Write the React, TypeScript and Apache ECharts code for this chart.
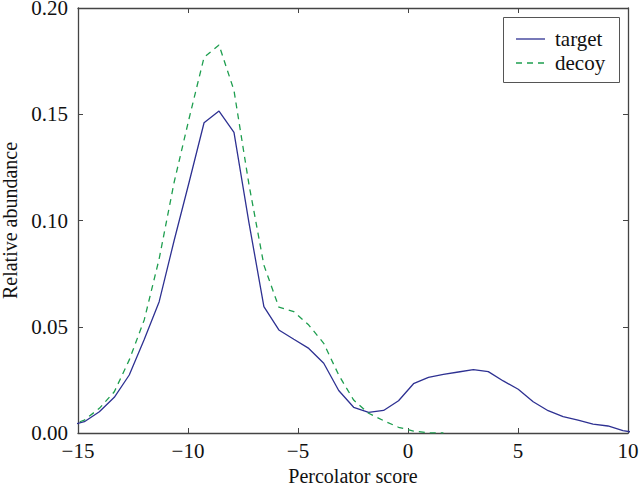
import React, { useEffect, useRef } from "react";
import * as echarts from "echarts";

const scores = [-15.39, -14.71, -14.03, -13.35, -12.67, -11.99, -11.31, -10.63, -9.95, -9.27, -8.59, -7.91, -7.23, -6.55, -5.87, -5.19, -4.51, -3.83, -3.15, -2.47, -1.79, -1.11, -0.43, 0.25, 0.93, 1.61, 2.29, 2.97, 3.65, 4.33, 5.01, 5.69, 6.37, 7.05, 7.73, 8.41, 9.09, 9.77, 10.45];
const target = [0.0035, 0.0053, 0.0100, 0.0168, 0.0273, 0.0440, 0.0618, 0.0906, 0.1180, 0.1460, 0.1515, 0.1415, 0.0990, 0.0595, 0.0485, 0.0441, 0.0398, 0.0328, 0.0200, 0.0121, 0.0097, 0.0106, 0.0152, 0.0232, 0.0262, 0.0276, 0.0287, 0.0298, 0.0289, 0.0245, 0.0206, 0.0147, 0.0105, 0.0077, 0.0061, 0.0042, 0.0033, 0.0011, 0.0000];
const decoy = [0.0035, 0.0061, 0.0116, 0.0194, 0.0344, 0.0532, 0.082, 0.118, 0.148, 0.1768, 0.1826, 0.1612, 0.117, 0.079, 0.0592, 0.0571, 0.0508, 0.0422, 0.0273, 0.0155, 0.0093, 0.0058, 0.0027, 0.0009, 0.0001, 0.0];
const seriesNames = ["target", "decoy"];
const xTicks = { min: -15, max: 10, interval: 5 };
const yTicks = { min: 0, max: 0.2, interval: 0.05 };

const FONT = "'Liberation Serif', 'Times New Roman', Times, serif";
const AXIS_COLOR = "#444";
const TARGET_COLOR = "#2e3192";
const DECOY_COLOR = "#1e9e4f";

export default function App() {
  const ref = useRef<HTMLDivElement>(null);
  useEffect(() => {
    if (!ref.current) return;
    const chart = echarts.init(ref.current, undefined, { renderer: "svg" });
    const axisCommon = {
      axisLine: { show: true, onZero: false, lineStyle: { color: AXIS_COLOR, width: 1.3 } },
      axisTick: { show: true, inside: true, length: 5, lineStyle: { color: AXIS_COLOR } },
      splitLine: { show: false },
    };
    const fmtX = (v: number) => (v < 0 ? "\u2212" + Math.abs(v) : String(v));
    const legendColors = [TARGET_COLOR, DECOY_COLOR];
    const legendDash = [null, [6, 5]];
    const legendItems: any[] = [];
    seriesNames.forEach((name, i) => {
      const y = 39 + i * 24;
      legendItems.push({
        type: "line",
        shape: { x1: 516, y1: y, x2: 545, y2: y },
        style: { stroke: legendColors[i], lineWidth: 1.3, lineDash: legendDash[i] || undefined },
      });
      legendItems.push({
        type: "text",
        x: 555,
        y: y,
        style: {
          text: name,
          fontFamily: FONT,
          fontSize: 21,
          fill: "#111",
          verticalAlign: "middle",
          align: "left",
        },
      });
    });
    chart.setOption({
      animation: false,
      backgroundColor: "#fff",
      textStyle: { fontFamily: FONT },
      grid: { left: 78, right: 12, top: 8, bottom: 56, containLabel: false, outerBoundsMode: "none" },
      graphic: [
        {
          type: "rect",
          shape: { x: 503.5, y: 17.5, width: 116, height: 65 },
          style: { fill: "#fff", stroke: "#555", lineWidth: 1 },
          z: 10,
        },
        ...legendItems.map((e) => ({ ...e, z: 11 })),
      ],
      xAxis: [
        {
          type: "value",
          position: "bottom",
          ...xTicks,
          ...axisCommon,
          name: "Percolator score",
          nameLocation: "middle",
          nameGap: 30,
          nameTextStyle: { fontFamily: FONT, fontSize: 20, color: "#111" },
          axisLabel: { fontFamily: FONT, fontSize: 21, color: "#111", margin: 7, formatter: fmtX },
        },
        {
          type: "value",
          position: "top",
          ...xTicks,
          ...axisCommon,
          axisLabel: { show: false },
        },
      ],
      yAxis: [
        {
          type: "value",
          position: "left",
          ...yTicks,
          ...axisCommon,
          name: "Relative abundance",
          nameLocation: "middle",
          nameGap: 57,
          nameTextStyle: { fontFamily: FONT, fontSize: 20, color: "#111" },
          axisLabel: {
            fontFamily: FONT,
            fontSize: 21,
            lineHeight: 15,
            color: "#111",
            margin: 10,
            formatter: (v: number) => v.toFixed(2),
          },
        },
        {
          type: "value",
          position: "right",
          ...yTicks,
          ...axisCommon,
          axisLabel: { show: false },
        },
      ],
      series: [
        {
          name: "target",
          type: "line",
          xAxisIndex: 0,
          yAxisIndex: 0,
          symbol: "none",
          clip: true,
          lineStyle: { color: TARGET_COLOR, width: 1.3 },
          itemStyle: { color: TARGET_COLOR },
          data: scores.map((x, i) => [x, target[i]]),
        },
        {
          name: "decoy",
          type: "line",
          xAxisIndex: 0,
          yAxisIndex: 0,
          symbol: "none",
          clip: true,
          lineStyle: { color: DECOY_COLOR, width: 1.3, type: [6, 5] },
          itemStyle: { color: DECOY_COLOR },
          data: decoy.map((y, i) => [scores[i], y]),
        },
      ],
    });
    return () => chart.dispose();
  }, []);
  return <div ref={ref} style={{ width: 640, height: 489, position: "absolute", left: 0, top: 0 }} />;
}
